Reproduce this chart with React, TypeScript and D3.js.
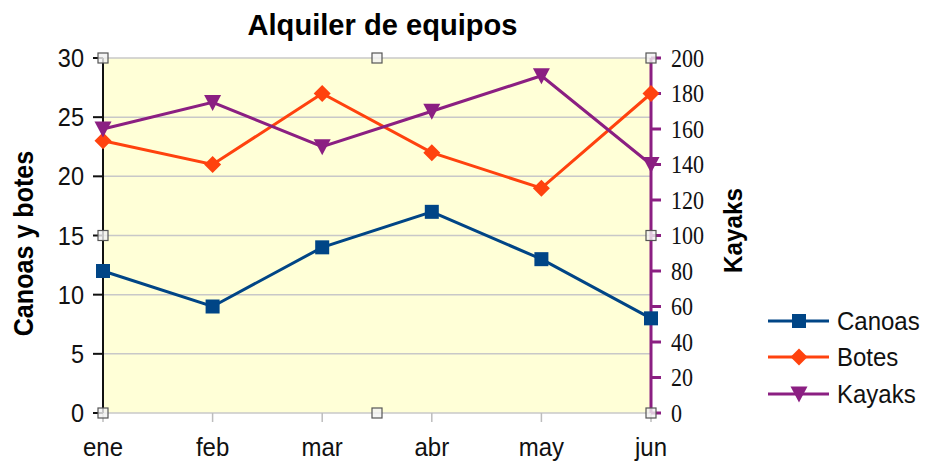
import React from "react";
import * as d3 from "d3";

const categories = ["ene", "feb", "mar", "abr", "may", "jun"];
const canoas = [12, 9, 14, 17, 13, 8];
const botes = [23, 21, 27, 22, 19, 27];
const kayaks = [160, 175, 150, 170, 190, 140];
const leftTicks = [0, 5, 10, 15, 20, 25, 30];
const rightTicks = [0, 20, 40, 60, 80, 100, 120, 140, 160, 180, 200];

const C_CANOAS = "#004586";
const C_BOTES = "#ff420e";
const C_KAYAKS = "#8b1f82";

const sans = "'Liberation Sans', Arial, sans-serif";
const serif = "'Liberation Serif', 'DejaVu Serif', serif";

type TProps = {
  x: number; y: number; size: number; sx?: number; anchor?: string; family?: string;
  weight?: string; rotate?: number; dy?: string; fill?: string; children: React.ReactNode;
};
function T({ x, y, size, sx = 1, anchor = "start", family = sans, weight = "normal", rotate = 0, dy, fill = "#111", children }: TProps) {
  return (
    <text
      transform={`translate(${x},${y}) rotate(${rotate}) scale(${sx},1)`}
      textAnchor={anchor}
      fontFamily={family}
      fontWeight={weight}
      fontSize={size}
      dy={dy}
      fill={fill}
    >
      {children}
    </text>
  );
}

export default function App() {
  const W = 926, H = 461;
  const x0 = 103, x1 = 651, yTop = 58, yBot = 413;
  const x = d3.scalePoint<string>().domain(categories).range([x0, x1]);
  const yL = d3.scaleLinear().domain([0, 30]).range([yBot, yTop]);
  const yR = d3.scaleLinear().domain([0, 200]).range([yBot, yTop]);
  const line = d3.line<[number, number]>().x(d => d[0]).y(d => d[1]);

  const ptsC = categories.map((c, i) => [x(c)!, yL(canoas[i])] as [number, number]);
  const ptsB = categories.map((c, i) => [x(c)!, yL(botes[i])] as [number, number]);
  const ptsK = categories.map((c, i) => [x(c)!, yR(kayaks[i])] as [number, number]);

  const square = (cx: number, cy: number, k: string) => (
    <rect key={k} x={cx - 7} y={cy - 7} width={14} height={14} fill={C_CANOAS} />
  );
  const diamond = (cx: number, cy: number, k: string) => (
    <path key={k} d={`M${cx},${cy - 8.5}L${cx + 8.5},${cy}L${cx},${cy + 8.5}L${cx - 8.5},${cy}Z`} fill={C_BOTES} />
  );
  const tri = (cx: number, cy: number, k: string) => (
    <path key={k} d={`M${cx - 8.5},${cy - 7.5}L${cx + 8.5},${cy - 7.5}L${cx},${cy + 8.5}Z`} fill={C_KAYAKS} />
  );

  const handles: [number, number][] = [
    [x0, yTop], [(x0 + x1) / 2, yTop], [x1, yTop],
    [x0, (yTop + yBot) / 2], [x1, (yTop + yBot) / 2],
    [x0, yBot], [(x0 + x1) / 2, yBot], [x1, yBot],
  ];

  const legend = [
    { name: "Canoas", color: C_CANOAS, mk: square, y: 321 },
    { name: "Botes", color: C_BOTES, mk: diamond, y: 357 },
    { name: "Kayaks", color: C_KAYAKS, mk: tri, y: 394 },
  ];

  return (
    <svg width={W} height={H} style={{ position: "absolute", left: 0, top: 0 }}>
      <rect x={0} y={0} width={W} height={H} fill="#ffffff" />
      <rect x={x0} y={yTop} width={x1 - x0} height={yBot - yTop} fill="#ffffd7" />
      {leftTicks.map(t => (
        <line key={"g" + t} x1={x0} x2={x1} y1={yL(t)} y2={yL(t)} stroke="#c8c8c8" strokeWidth={1.5} />
      ))}
      {categories.map(c => (
        <line key={"xt" + c} x1={x(c)} x2={x(c)} y1={yBot} y2={yBot + 9} stroke="#bdbdbd" strokeWidth={1.5} />
      ))}
      {categories.map(c => (
        <T key={"xl" + c} x={x(c)!} y={456} size={25} sx={0.96} anchor="middle">{c}</T>
      ))}
      {/* left axis */}
      <line x1={x0} x2={x0} y1={yTop} y2={yBot} stroke="#111" strokeWidth={2} />
      {leftTicks.map(t => (
        <g key={"lt" + t}>
          <line x1={x0 - 10} x2={x0} y1={yL(t)} y2={yL(t)} stroke="#111" strokeWidth={2} />
          <T x={84} y={yL(t)} dy="0.36em" size={25} sx={0.94} anchor="end">{t}</T>
        </g>
      ))}
      {/* right axis */}
      <line x1={x1} x2={x1} y1={yTop} y2={yBot} stroke={C_KAYAKS} strokeWidth={3} />
      {rightTicks.map(t => (
        <g key={"rt" + t}>
          <line x1={x1} x2={x1 + 10} y1={yR(t)} y2={yR(t)} stroke={C_KAYAKS} strokeWidth={3} />
          <T x={671} y={yR(t)} dy="0.34em" size={25} sx={0.88} family={serif}>{t}</T>
        </g>
      ))}
      {/* series */}
      <path d={line(ptsC)!} fill="none" stroke={C_CANOAS} strokeWidth={3} />
      <path d={line(ptsB)!} fill="none" stroke={C_BOTES} strokeWidth={3} />
      <path d={line(ptsK)!} fill="none" stroke={C_KAYAKS} strokeWidth={3} />
      {ptsC.map((p, i) => square(p[0], p[1], "c" + i))}
      {ptsB.map((p, i) => diamond(p[0], p[1], "b" + i))}
      {ptsK.map((p, i) => tri(p[0], p[1], "k" + i))}
      {/* handles */}
      {handles.map((h, i) => (
        <rect key={"h" + i} x={h[0] - 5} y={h[1] - 5} width={10} height={10} fill="#f2f2f2" fillOpacity={0.8} stroke="#555" strokeWidth={1.2} />
      ))}
      {/* titles */}
      <T x={382.5} y={35} size={30} sx={0.97} anchor="middle" weight="bold" fill="#000">Alquiler de equipos</T>
      <T x={33} y={243.5} size={27} sx={0.93} anchor="middle" weight="bold" rotate={-90} fill="#000">Canoas y botes</T>
      <T x={742} y={230.5} size={25} sx={0.97} anchor="middle" weight="bold" rotate={-90} fill="#000">Kayaks</T>
      {/* legend */}
      {legend.map(l => (
        <g key={l.name}>
          <line x1={768} x2={829} y1={l.y} y2={l.y} stroke={l.color} strokeWidth={3} />
          {l.mk(799, l.y, "lm" + l.name)}
          <T x={837} y={l.y} dy="0.36em" size={25} sx={0.96}>{l.name}</T>
        </g>
      ))}
    </svg>
  );
}
